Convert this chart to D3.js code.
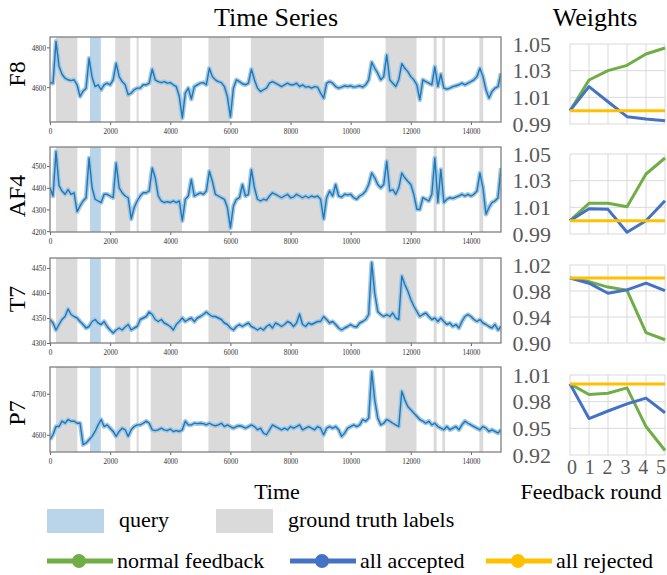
<!DOCTYPE html>
<meta charset="utf-8">
<style>
body { margin: 0; background: #fff; }
svg { font-family: "Liberation Serif", "Times New Roman", serif; }
.frame { fill: none; stroke: #808080; stroke-width: 1.3px; }
.tsaxis path { display: none; }
.tsaxis line { stroke: #666; }
.tsaxis text { fill: #333; font-size: 9px; font-family: "Liberation Serif", "Times New Roman", serif; }
.grid line { stroke: #d9d9d9; stroke-width: 1px; }
.wlab { fill: #595959; font-size: 22px; }
</style>
<svg width="667" height="575"></svg>
<script src="https://d3js.org/d3.v7.min.js"></script>
<script>

// ---- time series (one value every 100 samples) ----
var channels = ["F8", "AF4", "T7", "P7"];
var samples = d3.range(0, 15001, 100);

var f8 = [4623,4620,4830,4705,4665,4645,4637,4633,4637,4612,
          4553,4580,4595,4745,4650,4603,4612,4587,4612,4620,
          4612,4637,4720,4653,4628,4612,4562,4570,4587,4595,
          4595,4612,4612,4620,4690,4637,4628,4623,4628,4620,
          4623,4612,4603,4553,4445,4570,4595,4540,4603,4612,
          4620,4623,4612,4695,4653,4637,4628,4623,4603,4553,
          4450,4595,4637,4628,4617,4612,4620,4690,4637,4595,
          4578,4587,4595,4620,4628,4620,4612,4603,4612,4620,
          4612,4612,4620,4603,4612,4600,4603,4595,4603,4600,
          4570,4545,4620,4628,4620,4603,4595,4600,4607,4603,
          4607,4600,4603,4607,4600,4612,4637,4725,4695,4670,
          4637,4653,4762,4637,4620,4603,4637,4718,4695,4678,
          4653,4637,4612,4537,4637,4628,4620,4612,4703,4603,
          4665,4595,4590,4595,4603,4607,4612,4620,4612,4620,
          4628,4637,4653,4695,4653,4587,4545,4578,4595,4603,4670];

var af4 = [4400,4362,4567,4410,4385,4370,4392,4370,4377,4290,
           4316,4339,4354,4537,4400,4347,4339,4332,4370,4370,
           4362,4354,4514,4400,4377,4362,4354,4256,4309,4339,
           4362,4377,4377,4385,4491,4446,4362,4339,4332,4336,
           4332,4339,4332,4339,4248,4347,4362,4438,4362,4370,
           4377,4370,4385,4476,4430,4370,4362,4354,4347,4309,
           4215,4316,4347,4354,4415,4362,4370,4484,4400,4347,
           4339,4347,4343,4362,4377,4370,4362,4354,4362,4370,
           4354,4357,4370,4362,4354,4362,4354,4362,4357,4362,
           4347,4256,4354,4385,4362,4415,4362,4357,4370,4367,
           4370,4354,4347,4362,4370,4385,4415,4468,4446,4415,
           4400,4415,4522,4385,4392,4370,4400,4468,4446,4430,
           4415,4370,4301,4300,4354,4347,4339,4370,4537,4332,
           4484,4332,4347,4354,4351,4357,4362,4370,4362,4370,
           4362,4370,4385,4468,4400,4278,4309,4332,4339,4354,4491];

var t7 = [4347,4340,4326,4337,4347,4353,4368,4357,4353,4350,
          4343,4337,4330,4333,4343,4347,4340,4337,4343,4333,
          4326,4320,4326,4330,4326,4332,4337,4326,4330,4333,
          4347,4350,4353,4362,4357,4347,4343,4347,4340,4337,
          4333,4326,4337,4343,4350,4343,4347,4350,4343,4350,
          4353,4357,4362,4357,4353,4353,4350,4347,4340,4337,
          4330,4326,4333,4337,4333,4337,4340,4333,4330,4326,
          4330,4326,4333,4337,4330,4340,4337,4333,4337,4343,
          4340,4333,4340,4358,4337,4333,4340,4337,4340,4343,
          4343,4353,4347,4340,4343,4337,4330,4326,4330,4333,
          4337,4333,4332,4340,4343,4347,4357,4461,4400,4363,
          4357,4353,4357,4353,4360,4350,4347,4434,4417,4404,
          4387,4374,4363,4353,4357,4360,4353,4347,4350,4343,
          4350,4343,4337,4340,4333,4337,4330,4343,4353,4357,
          4353,4347,4343,4347,4340,4337,4333,4330,4337,4326,4333];

var p7 = [4588,4600,4620,4620,4633,4628,4637,4633,4633,4628,
          4628,4576,4580,4588,4596,4608,4624,4637,4620,4624,
          4616,4608,4596,4608,4616,4612,4596,4612,4620,4624,
          4624,4628,4633,4628,4612,4610,4612,4616,4612,4610,
          4614,4608,4610,4608,4612,4633,4624,4624,4628,4627,
          4628,4627,4624,4628,4624,4622,4624,4628,4620,4624,
          4620,4616,4620,4622,4620,4616,4620,4624,4620,4612,
          4616,4604,4600,4612,4624,4620,4616,4612,4616,4612,
          4620,4616,4620,4624,4612,4616,4620,4616,4612,4620,
          4616,4600,4616,4620,4616,4620,4612,4596,4604,4616,
          4620,4624,4620,4624,4637,4633,4641,4754,4685,4641,
          4624,4628,4637,4633,4628,4624,4620,4706,4685,4669,
          4661,4653,4645,4637,4633,4628,4633,4624,4628,4620,
          4616,4612,4620,4612,4616,4620,4612,4624,4633,4628,
          4624,4620,4616,4612,4620,4616,4608,4612,4608,4604,4612];

var series = [f8, af4, t7, p7];
var yDomains = [[4425, 4852], [4196, 4588], [4300, 4470], [4558, 4765]];
var yTicks = [[4600, 4800], [4200, 4300, 4400, 4500], [4300, 4350, 4400, 4450], [4600, 4700]];
var xTicks = [0, 2000, 4000, 6000, 8000, 10000, 12000, 14000];

var groundTruth = [[200, 910], [2170, 2670], [2880, 2950], [3350, 4390], [5270, 5990],
                   [6680, 9110], [11160, 12190], [12760, 12860], [13050, 13140], [14280, 14410]];
var query = [[1330, 1690]];

// ---- weights per feedback round ----
var rounds = [0, 1, 2, 3, 4, 5];
var normalFeedback = [[1.000, 1.023, 1.030, 1.034, 1.0425, 1.047],
                      [1.000, 1.013, 1.013, 1.0105, 1.035, 1.047],
                      [1.000, 0.9945, 0.986, 0.981, 0.916, 0.905],
                      [1.000, 0.988, 0.9895, 0.9955, 0.952, 0.925]];
var allAccepted = [[1.000, 1.018, 1.0067, 0.9955, 0.9938, 0.9925],
                   [1.000, 1.009, 1.0085, 0.9913, 1.000, 1.015],
                   [1.000, 0.992, 0.9766, 0.9817, 0.992, 0.9807],
                   [1.000, 0.961, 0.9695, 0.9775, 0.984, 0.9675]];
var allRejected = [[1, 1, 1, 1, 1, 1], [1, 1, 1, 1, 1, 1], [1, 1, 1, 1, 1, 1], [1, 1, 1, 1, 1, 1]];
var wDomains = [[0.99, 1.05], [0.99, 1.05], [0.90, 1.02], [0.92, 1.01]];
var wTicks = [[0.99, 1.01, 1.03, 1.05], [0.99, 1.01, 1.03, 1.05],
              [0.90, 0.94, 0.98, 1.02], [0.92, 0.95, 0.98, 1.01]];

var colors = { normal: "#70ad47", accepted: "#4472c4", rejected: "#ffc000" };

var svg = d3.select("svg");

// layout
var tsLeft = 50, tsRight = 501, tsH = 85,
    tsTop = [37, 147, 258, 367],
    labelY = [74, 196, 299, 413],
    wLeft = 570, wRight = 665,
    wTop = [44, 154, 265, 375], wBottom = [124, 234, 343, 455];

var x = d3.scaleLinear().domain([0, 15000]).range([tsLeft, tsRight]);

svg.append("text").attr("x", 276).attr("y", 26).attr("text-anchor", "middle")
    .style("font-size", "26px").text("Time Series");
svg.append("text").attr("x", 595).attr("y", 26).attr("text-anchor", "middle")
    .style("font-size", "26px").text("Weights");

channels.forEach(function(name, i) {
  var top = tsTop[i], bottom = top + tsH;
  var y = d3.scaleLinear().domain(yDomains[i]).range([bottom, top]);
  var g = svg.append("g");

  g.append("clipPath").attr("id", "clip" + i)
    .append("rect").attr("x", tsLeft).attr("y", top).attr("width", tsRight - tsLeft).attr("height", tsH);

  g.selectAll(".gt").data(groundTruth).enter().append("rect")
      .attr("x", function(d) { return x(d[0]); })
      .attr("width", function(d) { return x(d[1]) - x(d[0]); })
      .attr("y", top).attr("height", tsH)
      .attr("fill", "#dadada");

  g.selectAll(".q").data(query).enter().append("rect")
      .attr("x", function(d) { return x(d[0]); })
      .attr("width", function(d) { return x(d[1]) - x(d[0]); })
      .attr("y", top).attr("height", tsH)
      .attr("fill", "#bad5ea");

  var line = d3.line()
      .x(function(d, j) { return x(samples[j]); })
      .y(function(d) { return y(d); });

  var lg = g.append("g").attr("clip-path", "url(#clip" + i + ")");
  lg.append("path").datum(series[i]).attr("d", line)
      .attr("fill", "none").attr("stroke", "#a3c8e4").attr("stroke-width", 4.5)
      .attr("stroke-linejoin", "round");
  lg.append("path").datum(series[i]).attr("d", line)
      .attr("fill", "none").attr("stroke", "#1f77b4").attr("stroke-width", 1.4)
      .attr("stroke-linejoin", "round");

  var xa = g.append("g").attr("class", "tsaxis")
      .attr("transform", "translate(0," + bottom + ")")
      .call(d3.axisBottom(x).tickValues(xTicks).tickSize(3).tickPadding(3).tickFormat(d3.format("d")));
  xa.selectAll("text").attr("transform", "scale(0.8,1)");

  var ya = g.append("g").attr("class", "tsaxis")
      .attr("transform", "translate(" + tsLeft + ",0)")
      .call(d3.axisLeft(y).tickValues(yTicks[i]).tickSize(3).tickPadding(1).tickFormat(d3.format("d")));
  ya.selectAll("text").attr("transform", "scale(0.8,1)").attr("x", -5);

  g.append("rect").attr("class", "frame")
      .attr("x", tsLeft).attr("y", top).attr("width", tsRight - tsLeft).attr("height", tsH);

  svg.append("text")
      .attr("transform", "translate(25," + labelY[i] + ") rotate(-90)")
      .attr("text-anchor", "middle")
      .style("font-size", "24px")
      .text(name);

  // weights panel
  var wx = d3.scaleLinear().domain([0, 5]).range([wLeft, wRight]);
  var wy = d3.scaleLinear().domain(wDomains[i]).range([wBottom[i], wTop[i]]);
  var wg = svg.append("g");
  var grid = wg.append("g").attr("class", "grid");
  grid.selectAll(".v").data(rounds).enter().append("line")
      .attr("x1", wx).attr("x2", wx).attr("y1", wTop[i]).attr("y2", wBottom[i]);
  grid.selectAll(".h").data(wTicks[i]).enter().append("line")
      .attr("x1", wLeft).attr("x2", wRight)
      .attr("y1", function(d) { return wy(d); }).attr("y2", function(d) { return wy(d); });

  wg.selectAll(".wl").data(wTicks[i]).enter().append("text")
      .attr("class", "wlab")
      .attr("x", 551).attr("y", function(d) { return wy(d); })
      .attr("dy", "0.35em").attr("text-anchor", "end")
      .text(d3.format(".2f"));

  var wline = d3.line()
      .x(function(d, j) { return wx(rounds[j]); })
      .y(function(d) { return wy(d); });
  [[normalFeedback, colors.normal], [allAccepted, colors.accepted], [allRejected, colors.rejected]]
    .forEach(function(s) {
      wg.append("path").datum(s[0][i]).attr("d", wline)
          .attr("fill", "none").attr("stroke", s[1]).attr("stroke-width", 3)
          .attr("stroke-linejoin", "round");
    });
});

// round labels sit slightly inside the grid edges
var roundLabelX = d3.scaleLinear().domain([0, 5]).range([572, 661]);
svg.selectAll(".rl").data(rounds).enter().append("text")
    .attr("class", "wlab")
    .style("font-size", "20px")
    .attr("x", roundLabelX).attr("y", 474)
    .attr("text-anchor", "middle")
    .text(function(d) { return d; });

svg.append("text").attr("x", 277).attr("y", 499).attr("text-anchor", "middle")
    .style("font-size", "22px").text("Time");
svg.append("text").attr("x", 591).attr("y", 499).attr("text-anchor", "middle")
    .style("font-size", "22px").text("Feedback round");

// legend
var boxLegend = [{ label: "query", color: "#bad5ea", x: 47 },
                 { label: "ground truth labels", color: "#dadada", x: 216 }];
var lineLegend = [{ label: "normal feedback", color: colors.normal, x: 47 },
                  { label: "all accepted", color: colors.accepted, x: 290 },
                  { label: "all rejected", color: colors.rejected, x: 486 }];

var bl = svg.selectAll(".bl").data(boxLegend).enter().append("g");
bl.append("rect").attr("x", function(d) { return d.x; }).attr("y", 509)
    .attr("width", 57).attr("height", 24).attr("fill", function(d) { return d.color; });
bl.append("text").attr("x", function(d) { return d.x + 72; }).attr("y", 527)
    .style("font-size", "22px").text(function(d) { return d.label; });

var ll = svg.selectAll(".ll").data(lineLegend).enter().append("g");
ll.append("line").attr("x1", function(d) { return d.x; }).attr("x2", function(d) { return d.x + 66; })
    .attr("y1", 561).attr("y2", 561)
    .attr("stroke", function(d) { return d.color; }).attr("stroke-width", 5);
ll.append("circle").attr("cx", function(d) { return d.x + 32; }).attr("cy", 561).attr("r", 7)
    .attr("fill", function(d) { return d.color; });
ll.append("text").attr("x", function(d) { return d.x + 70; }).attr("y", 568)
    .style("font-size", "22px").text(function(d) { return d.label; });

</script>
